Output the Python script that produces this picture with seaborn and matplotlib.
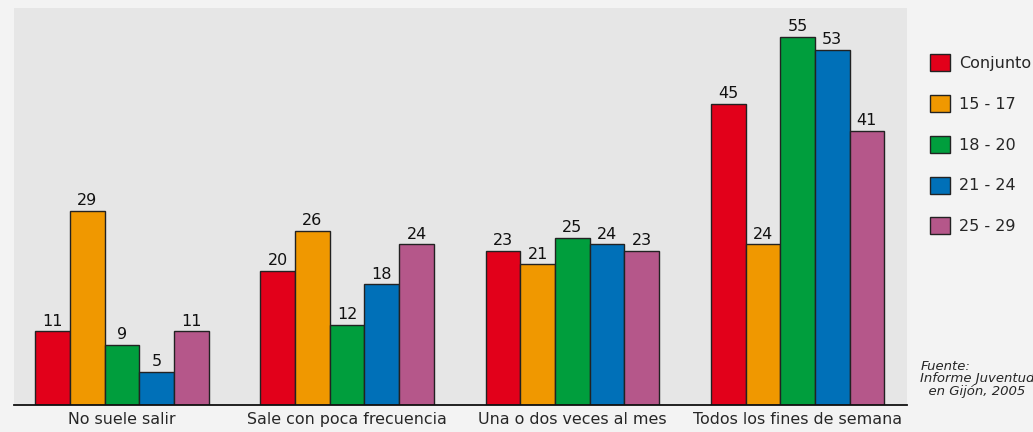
import matplotlib
matplotlib.use("Agg")
import matplotlib.pyplot as plt
import numpy as np
import pandas as pd
import seaborn as sns

categorias = ["No suele salir", "Sale con poca frecuencia",
              "Una o dos veces al mes", "Todos los fines de semana"]
grupos = ["Conjunto", "15 - 17", "18 - 20", "21 - 24", "25 - 29"]
conjunto = [11, 20, 23, 45]
g15_17 = [29, 26, 21, 24]
g18_20 = [9, 12, 25, 55]
g21_24 = [5, 18, 24, 53]
g25_29 = [11, 24, 23, 41]
colores = ["#e2001a", "#f09800", "#009e3d", "#0070b8", "#b5578a"]

series = [conjunto, g15_17, g18_20, g21_24, g25_29]
df = pd.DataFrame({
    "cat": np.repeat([categorias], len(grupos), axis=0).ravel(),
    "grupo": np.repeat(grupos, len(categorias)),
    "val": np.concatenate(series),
})

sns.set_style("white")
plt.rcParams["font.family"] = ["DejaVu Sans"]

fig = plt.figure(figsize=(10.33, 4.32), dpi=100, facecolor="#f3f3f3")
ax = fig.add_axes([0.0136, 0.0625, 0.864, 0.919])
ax.set_facecolor("#e6e6e6")

sns.barplot(data=df, x="cat", y="val", hue="grupo", order=categorias,
            hue_order=grupos, palette=colores, width=0.77, gap=0,
            edgecolor="#222222", linewidth=1, saturation=1, ax=ax)

for c in ax.containers:
    ax.bar_label(c, padding=2, fontsize=11.5, color="#111111")

ax.set_ylim(0, 59.3)
ax.set_xlim(-0.479, 3.484)
ax.set_xlabel("")
ax.set_ylabel("")
ax.set_yticks([])
for s in ["top", "right", "left"]:
    ax.spines[s].set_visible(False)
ax.spines["bottom"].set_color("#111111")
ax.spines["bottom"].set_linewidth(1.3)
ax.tick_params(axis="x", which="major", length=0, labelsize=11.4, pad=5)
ax.set_xticks([0.5, 1.5, 2.5], minor=True)
ax.tick_params(axis="x", which="minor", length=5, width=1, direction="out", color="#111111")

h, l = ax.get_legend_handles_labels()
ax.legend(h, l, loc="upper left", bbox_to_anchor=(1.019, 0.90), frameon=False,
          fontsize=11.5, handlelength=1.25, handleheight=1.25, labelspacing=1.5,
          handletextpad=0.55, borderaxespad=0)

fig.text(0.891, 0.167, "Fuente:\nInforme Juventud\n  en Gijón, 2005", fontsize=9.5,
         style="italic", ha="left", va="top", linespacing=0.95)

fig.savefig("out.png", dpi=100, facecolor=fig.get_facecolor())
